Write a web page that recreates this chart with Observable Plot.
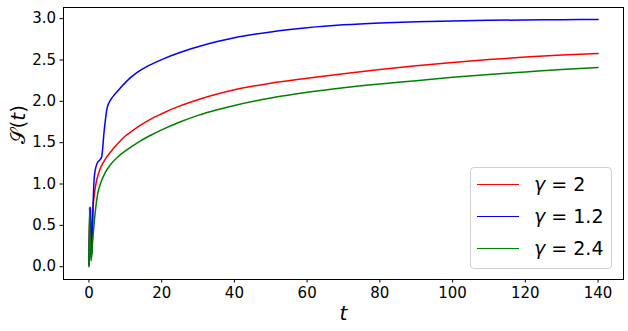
<!DOCTYPE html>
<html>
<head>
<meta charset="utf-8">
<script src="https://cdn.jsdelivr.net/npm/d3@7"></script>
<script src="https://cdn.jsdelivr.net/npm/@observablehq/plot@0.6"></script>
<style>
  html, body { margin: 0; padding: 0; background: #fff; }
  #wrap { position: relative; width: 628px; height: 331px; font-family: "DejaVu Sans", sans-serif; }
  #legend { position: absolute; left: 470px; top: 167px; width: 142px; height: 102px;
    border: 1px solid #d0d0d0; border-radius: 4px; background: rgba(255,255,255,0.8); box-sizing: border-box; }
  .item { position: absolute; left: 0; height: 0; }
  .sw { position: absolute; left: 6px; top: -1px; width: 42px; height: 0; border-top: 1.5px solid; }
  .lab { position: absolute; left: 63px; top: -12px; font-size: 19px; line-height: 22px; white-space: nowrap; color: #000; }
</style>
</head>
<body>
<div id="wrap"><div id="chart"></div><div id="legend"></div></div>
<script>
// Series
const seriesNames = ["γ = 2", "γ = 1.2", "γ = 2.4"];
const seriesColors = ["#ff0000", "#0000ff", "#008000"];

const tRed = [0, 0.2, 0.7, 1.0, 1.5, 2, 2.8, 4.2, 6, 7, 8.8, 10, 12, 14.3, 17, 20, 25, 30, 35, 40, 50, 60, 70, 80, 90, 100, 110, 120, 130, 140];
const sRed = [0.02, 0.70, 0.12, 0.60, 0.88, 1.02, 1.15, 1.28, 1.39, 1.445, 1.53, 1.58, 1.645, 1.715, 1.785, 1.85, 1.945, 2.02, 2.085, 2.14, 2.22, 2.28, 2.335, 2.385, 2.43, 2.47, 2.505, 2.535, 2.56, 2.58];

const tBlue = [0, 0.3, 0.4, 0.85, 1.0, 1.5, 2.0, 2.5, 3.0, 3.5, 4.2, 5, 6, 7, 8.8, 11.5, 14.3, 17, 20, 25, 30, 35, 40, 50, 60, 70, 80, 90, 100, 110, 120, 130, 140];
const sBlue = [0.02, 0.72, 0.70, 0.15, 0.50, 1.10, 1.22, 1.27, 1.29, 1.33, 1.65, 1.92, 2.02, 2.08, 2.17, 2.29, 2.38, 2.445, 2.505, 2.59, 2.66, 2.72, 2.77, 2.84, 2.89, 2.925, 2.948, 2.963, 2.973, 2.98, 2.984, 2.987, 2.99];

const tGreen = [0, 0.15, 0.3, 0.6, 1.0, 1.5, 2.4, 3.3, 4.5, 6, 8, 10, 12, 14.3, 17, 20, 25, 30, 35, 40, 50, 60, 70, 80, 90, 100, 110, 120, 130, 140];
const sGreen = [0.0, 0.72, 0.30, 0.07, 0.30, 0.56, 0.88, 1.02, 1.14, 1.24, 1.33, 1.40, 1.46, 1.525, 1.59, 1.655, 1.75, 1.83, 1.895, 1.95, 2.04, 2.11, 2.165, 2.21, 2.25, 2.29, 2.325, 2.355, 2.385, 2.41];

const xTicks = [0, 20, 40, 60, 80, 100, 120, 140];
const yTicks = [0, 0.5, 1.0, 1.5, 2.0, 2.5, 3.0];

const toRows = (ts, vs, k) => ts.map((t, i) => ({t, s: vs[i], k}));
const rows = [
  ...toRows(tRed, sRed, seriesNames[0]),
  ...toRows(tBlue, sBlue, seriesNames[1]),
  ...toRows(tGreen, sGreen, seriesNames[2])
];

const chart = Plot.plot({
  width: 628, height: 331,
  marginLeft: 63, marginRight: 5, marginTop: 7, marginBottom: 52,
  style: {fontFamily: "DejaVu Sans, sans-serif", fontSize: "15px", color: "#000", background: "#fff"},
  x: {domain: [-7, 147]},
  y: {domain: [-0.155, 3.135]},
  color: {domain: seriesNames, range: seriesColors},
  marks: [
    Plot.axisX({ticks: xTicks, tickSize: 3.5, tickPadding: 4, fontSize: 15, label: null, tickFormat: d => String(d)}),
    Plot.axisY({ticks: yTicks, tickSize: 3.5, tickPadding: 4, fontSize: 15, label: null, tickFormat: d3.format(".1f")}),
    Plot.line(rows, {x: "t", y: "s", z: "k", stroke: "k", strokeWidth: 1.5, curve: "monotone-x"}),
    Plot.frame({stroke: "#000", strokeWidth: 1}),
    Plot.text(["t"], {frameAnchor: "bottom", dy: 34, fontSize: 20, fontStyle: "italic", lineAnchor: "middle"}),
    Plot.text(["𝒮(t)"], {frameAnchor: "left", dx: -45, rotate: -90, fontSize: 20, lineAnchor: "middle", className: "ylab"})
  ]
});
document.getElementById("chart").appendChild(chart);

// italic t inside the y label, as in the math text of the reference
chart.querySelectorAll("text").forEach(el => {
  if (el.textContent === "𝒮(t)") {
    el.textContent = "";
    const ns = "http://www.w3.org/2000/svg";
    const a = document.createElementNS(ns, "tspan"); a.textContent = "𝒮(";
    const b = document.createElementNS(ns, "tspan"); b.textContent = "t"; b.setAttribute("font-style", "italic");
    const c = document.createElementNS(ns, "tspan"); c.textContent = ")";
    el.append(a, b, c);
  }
});

const legend = document.getElementById("legend");
seriesNames.forEach((n, i) => {
  const item = document.createElement("div");
  item.className = "item";
  item.style.top = (17 + i * 32) + "px";
  const sw = document.createElement("div");
  sw.className = "sw";
  sw.style.borderTopColor = seriesColors[i];
  const lab = document.createElement("div");
  lab.className = "lab";
  const parts = n.split(" = ");
  lab.innerHTML = "<i>" + parts[0] + "</i> = " + parts[1];
  item.appendChild(sw);
  item.appendChild(lab);
  legend.appendChild(item);
});
</script>
</body>
</html>
